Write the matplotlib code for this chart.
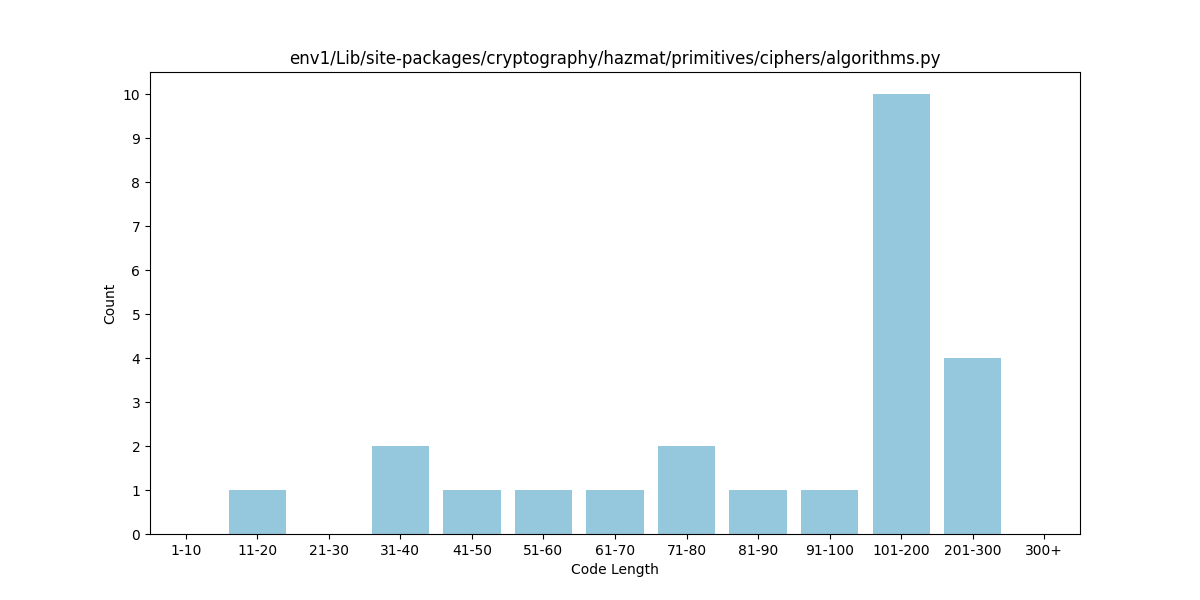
import matplotlib
matplotlib.use('Agg')
import matplotlib.pyplot as plt

ranges = ['1-10', '11-20', '21-30', '31-40', '41-50', '51-60', '61-70',
          '71-80', '81-90', '91-100', '101-200', '201-300', '300+']
counts = [0, 1, 0, 2, 1, 1, 1, 2, 1, 1, 10, 4, 0]

fig = plt.figure(figsize=(12, 6))
plt.bar(ranges, counts, color='#95c8dc')
plt.xlim(-0.5, len(ranges) - 0.5)
plt.xlabel('Code Length')
plt.ylabel('Count')
plt.title('env1/Lib/site-packages/cryptography/hazmat/primitives/ciphers/algorithms.py')
plt.yticks(range(0, 11))
plt.savefig('out.png')
